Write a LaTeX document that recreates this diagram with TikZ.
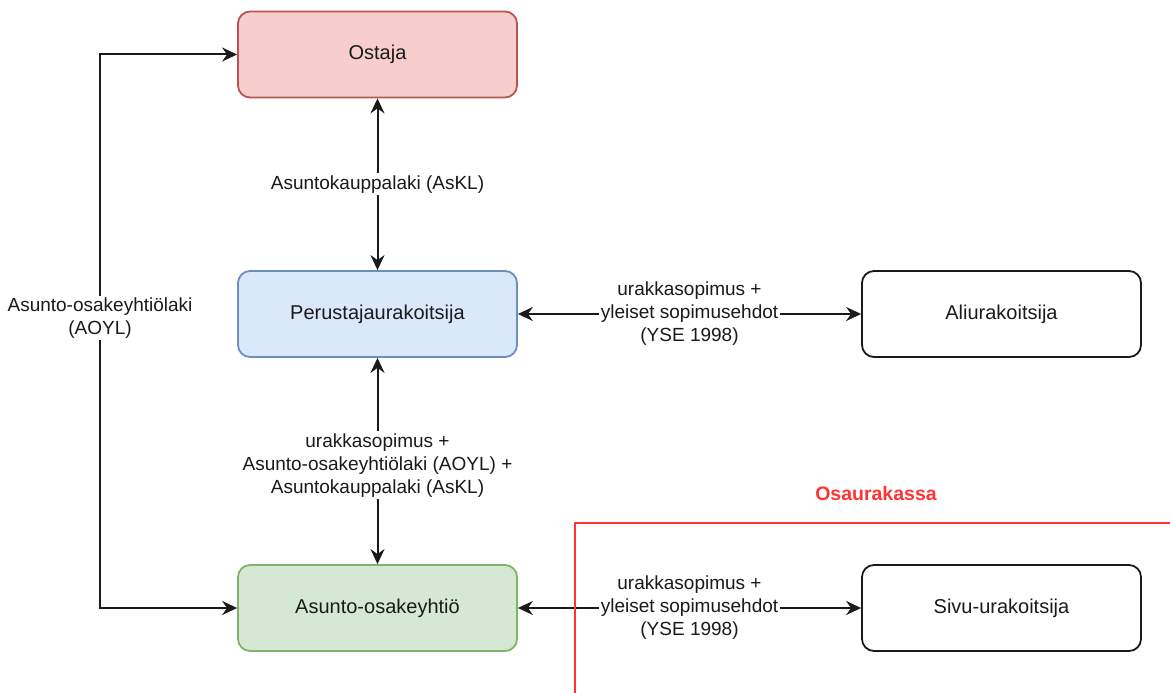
\documentclass[tikz,border=0pt]{standalone}
\usepackage{fontspec}
\setmainfont{Liberation Sans}
\usetikzlibrary{arrows.meta}

\definecolor{buyerfill}{HTML}{F8CECC}
\definecolor{buyerline}{HTML}{B85450}
\definecolor{founderfill}{HTML}{DAE8FC}
\definecolor{founderline}{HTML}{6C8EBF}
\definecolor{companyfill}{HTML}{D5E8D4}
\definecolor{companyline}{HTML}{82B366}
\definecolor{zonered}{HTML}{FF3333}
\definecolor{ink}{HTML}{1A1A1A}

\begin{document}
\begin{tikzpicture}[x=1pt,y=-1pt,
  party/.style={draw, rounded corners=12pt, line width=1.8pt,
    minimum width=279pt, minimum height=86pt, inner sep=0pt,
    font=\fontsize{20}{24}\selectfont, text=ink},
  link/.style={line width=2pt, draw=ink,
    {Stealth[length=15pt,width=14pt,inset=5pt]}-{Stealth[length=15pt,width=14pt,inset=5pt]}},
  lawlabel/.style={fill=white, align=center, text=ink,
    font=\fontsize{19}{23}\selectfont, inner sep=2pt},
  zone/.style={draw=zonered, line width=2pt}
]
\useasboundingbox (0,0) rectangle (1170,693);

% parties
\node[party, fill=buyerfill, draw=buyerline] (ostaja) at (377.5,54.5) {Ostaja};
\node[party, fill=founderfill, draw=founderline] (perustaja) at (377.5,314) {Perustajaurakoitsija};
\node[party, fill=companyfill, draw=companyline] (aoy) at (377.5,608) {Asunto-osakeyhtiö};
\node[party, fill=white, draw=ink] (ali) at (1001.5,314) {Aliurakoitsija};
\node[party, fill=white, draw=ink] (sivu) at (1001.5,608) {Sivu-urakoitsija};

% contractual relations
\draw[link] (ostaja) -- node[lawlabel] {Asuntokauppalaki (AsKL)} (perustaja);
\draw[link] (perustaja) -- node[lawlabel, pos=0.52]
  {urakkasopimus +\\Asunto-osakeyhtiölaki (AOYL) +\\Asuntokauppalaki (AsKL)} (aoy);
\draw[link] (perustaja) -- node[lawlabel]
  {urakkasopimus +\\yleiset sopimusehdot\\(YSE 1998)} (ali);
\draw[link] (aoy) -- node[lawlabel]
  {urakkasopimus +\\yleiset sopimusehdot\\(YSE 1998)} (sivu);

% housing company act, running along the left side
\coordinate (lefttop) at (100,54.5);
\coordinate (leftbottom) at (100,608);
\draw[link] (ostaja.west) -- (lefttop) -- node[lawlabel, pos=0.476]
  {Asunto-osakeyhtiölaki\\(AOYL)} (leftbottom) -- (aoy.west);

% partial contract zone
\coordinate (zonebottom) at (575,693);
\coordinate (zonecorner) at (575,523);
\coordinate (zoneright) at (1170,523);
\draw[zone] (zonebottom) -- (zonecorner) -- (zoneright);
\node[text=zonered, font=\fontsize{19.5}{23}\selectfont\bfseries] (osa) at (876,494) {Osaurakassa};
\end{tikzpicture}
\end{document}
